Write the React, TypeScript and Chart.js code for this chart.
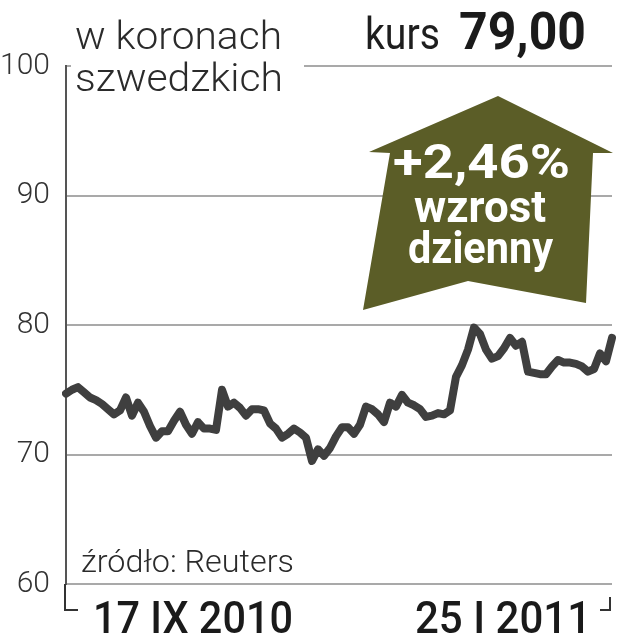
import React, { useEffect, useRef } from "react";
import { Chart, registerables } from "chart.js";

Chart.register(...registerables);

// Daily closing price (SEK), 17 IX 2010 – 25 I 2011
const prices: number[] = [
  74.7, 75.0, 75.2, 74.8, 74.4, 74.2, 73.9, 73.5, 73.1, 73.4,
  74.4, 73.0, 74.0, 73.3, 72.2, 71.3, 71.8, 71.8, 72.6, 73.3,
  72.3, 71.6, 72.5, 72.0, 72.0, 71.9, 75.0, 73.7, 74.0, 73.6,
  73.0, 73.5, 73.5, 73.4, 72.4, 72.0, 71.3, 71.6, 72.0, 71.7,
  71.3, 69.5, 70.4, 69.9, 70.5, 71.4, 72.1, 72.1, 71.6, 72.3,
  73.7, 73.5, 73.1, 72.5, 74.0, 73.7, 74.6, 74.0, 73.8, 73.5,
  72.9, 73.0, 73.2, 73.1, 73.4, 76.0, 76.9, 78.1, 79.8, 79.3,
  78.1, 77.4, 77.6, 78.2, 79.0, 78.4, 78.7, 76.4, 76.3, 76.2,
  76.2, 76.8, 77.3, 77.1, 77.1, 77.0, 76.8, 76.4, 76.6, 77.8,
  77.2, 79.0,
];
const dayLabels: string[] = prices.map((_, i) => String(i + 1));
const yTicks: number[] = [60, 70, 80, 90, 100];
const dateLabels: string[] = ["17 IX 2010", "25 I 2011"];
const unitLines: string[] = ["w koronach", "szwedzkich"];
const kursLabel = "kurs";
const kursValue = "79,00";
const changeLines: string[] = ["+2,46%", "wzrost", "dzienny"];
const sourceLabel = "źródło: Reuters";

const FONT = "Roboto, 'Noto Sans', sans-serif";

function drawFit(
  ctx: CanvasRenderingContext2D,
  text: string,
  x: number,
  y: number,
  w: number,
  font: string,
  color: string
) {
  ctx.save();
  ctx.font = font;
  ctx.fillStyle = color;
  ctx.textAlign = "left";
  ctx.textBaseline = "alphabetic";
  const m = ctx.measureText(text).width;
  ctx.translate(x, y);
  ctx.scale(w / m, 1);
  ctx.fillText(text, 0, 0);
  ctx.restore();
}

const decorations = {
  id: "decorations",
  afterDraw(chart: any) {
    const ctx: CanvasRenderingContext2D = chart.ctx;
    // hide the 100 gridline behind the unit caption
    ctx.save();
    ctx.fillStyle = "#ffffff";
    ctx.fillRect(71, 58, 233, 16);
    ctx.restore();

    drawFit(ctx, unitLines[0], 75, 49, 207, `300 39px ${FONT}`, "#2b2b2b");
    drawFit(ctx, unitLines[1], 75, 91, 208, `300 39px ${FONT}`, "#2b2b2b");
    drawFit(ctx, kursLabel, 365, 49, 75, `400 45px ${FONT}`, "#1e1e1e");
    drawFit(ctx, kursValue, 459, 49, 127, `700 52px ${FONT}`, "#1a1a1a");

    // arrow
    ctx.save();
    ctx.fillStyle = "#5b5d27";
    ctx.beginPath();
    ctx.moveTo(498, 96);
    ctx.lineTo(613, 153);
    ctx.lineTo(593, 153);
    ctx.lineTo(586, 303);
    ctx.lineTo(468, 281);
    ctx.lineTo(363, 310);
    ctx.lineTo(390, 153);
    ctx.lineTo(369, 152);
    ctx.closePath();
    ctx.fill();
    ctx.restore();

    drawFit(ctx, changeLines[0], 393, 178, 177, `700 48px ${FONT}`, "#ffffff");
    drawFit(ctx, changeLines[1], 414, 222, 132, `700 44px ${FONT}`, "#ffffff");
    drawFit(ctx, changeLines[2], 408, 263, 145, `700 44px ${FONT}`, "#ffffff");

    drawFit(ctx, sourceLabel, 81, 572, 213, `300 31px ${FONT}`, "#2b2b2b");

    // bottom brackets
    ctx.save();
    ctx.strokeStyle = "#333333";
    ctx.lineWidth = 2;
    ctx.beginPath();
    ctx.moveTo(65, 584);
    ctx.lineTo(65, 610);
    ctx.lineTo(78, 610);
    ctx.moveTo(600, 610);
    ctx.lineTo(610, 610);
    ctx.lineTo(610, 597);
    ctx.stroke();
    ctx.restore();

    drawFit(ctx, dateLabels[0], 93, 633, 200, `500 45px ${FONT}`, "#1a1a1a");
    drawFit(ctx, dateLabels[1], 415, 633, 176, `500 45px ${FONT}`, "#1a1a1a");
  },
};

export default function App() {
  const ref = useRef<HTMLCanvasElement | null>(null);
  useEffect(() => {
    if (!ref.current) return;
    const chart = new Chart(ref.current, {
      type: "line",
      data: {
        labels: dayLabels,
        datasets: [
          {
            data: prices,
            borderColor: "#3f3f3f",
            borderWidth: 8,
            pointRadius: 0,
            tension: 0,
            borderJoinStyle: "round",
            borderCapStyle: "round",
            fill: false,
          },
        ],
      },
      options: {
        animation: false,
        responsive: false,
        devicePixelRatio: 1,
        layout: { padding: { left: 0, right: 6, top: 66, bottom: 56 } },
        plugins: { legend: { display: false }, tooltip: { enabled: false } },
        scales: {
          x: { type: "category", display: false, offset: false },
          y: {
            min: 60,
            max: 100,
            afterBuildTicks: (scale: any) => {
              scale.ticks = yTicks.map((v) => ({ value: v }));
            },
            afterFit: (scale: any) => {
              scale.width = 66;
            },
            ticks: {
              padding: 16,
              color: "#333333",
              font: { family: FONT, size: 30, weight: "300" },
            },
            grid: { color: "#a9a9a9", lineWidth: 2, drawTicks: false },
            border: { display: true, color: "#555555", width: 2 },
          },
        },
      },
      plugins: [decorations],
    } as any);
    return () => chart.destroy();
  }, []);
  return (
    <div style={{ position: "absolute", left: 0, top: 0, width: 618, height: 640, background: "#fff" }}>
      <canvas ref={ref} width={618} height={640} />
    </div>
  );
}
